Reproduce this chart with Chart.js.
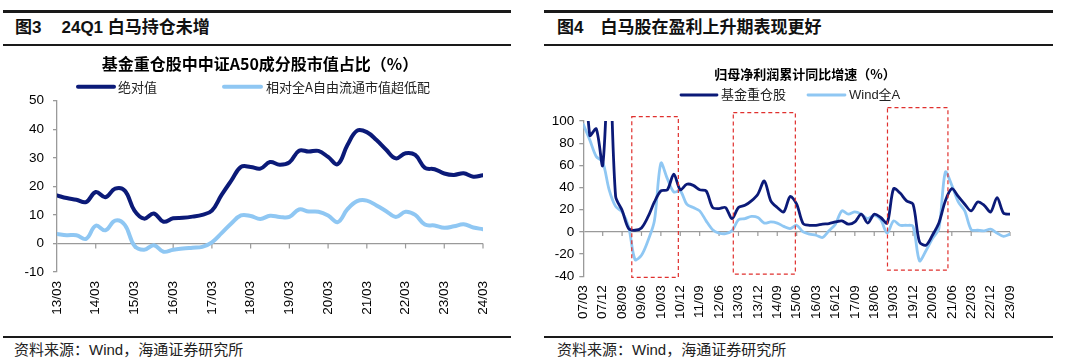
<!DOCTYPE html>
<html><head><meta charset="utf-8">
<script src="https://cdn.jsdelivr.net/npm/chart.js@4"></script>
<style>
html,body{margin:0;padding:0;background:#fff;}
body{width:1080px;height:361px;position:relative;overflow:hidden;font-family:"Liberation Sans","Noto Sans CJK SC",sans-serif;}
.rule{position:absolute;background:#1a1a1a;}
.figt{position:absolute;font-weight:bold;font-size:17px;line-height:20px;color:#111;white-space:nowrap;font-family:"Liberation Sans","Noto Sans CJK SC",sans-serif;}
.src{position:absolute;font-size:15px;line-height:16px;color:#222;white-space:nowrap;font-family:"Liberation Sans","Noto Sans CJK SC",sans-serif;}
canvas{position:absolute;}
</style></head><body>
<div class="rule" style="left:3px;top:10px;width:508px;height:2.5px"></div>
<div class="rule" style="left:3px;top:44px;width:508px;height:1.6px"></div>
<div class="rule" style="left:3px;top:336px;width:508px;height:2px"></div>
<div class="rule" style="left:544px;top:10px;width:509px;height:2.5px"></div>
<div class="rule" style="left:544px;top:44px;width:509px;height:1.6px"></div>
<div class="rule" style="left:544px;top:336px;width:509px;height:2px"></div>
<div class="figt" style="left:15px;top:18px">图3<span style="margin-left:20px">24Q1 白马持仓未增</span></div>
<div class="figt" style="left:557px;top:18px">图4<span style="margin-left:17px">白马股在盈利上升期表现更好</span></div>
<div class="src" style="left:14px;top:342px">资料来源：Wind，海通证券研究所</div>
<div class="src" style="left:557px;top:342px">资料来源：Wind，海通证券研究所</div>
<canvas id="c1" width="540" height="288" style="left:0;top:48px"></canvas>
<canvas id="c2" width="540" height="288" style="left:540px;top:48px"></canvas>
<script>
// ---------- Figure 3 data (quarterly) ----------
const leftCategories = [
 '13/03','13/06','13/09','13/12','14/03','14/06','14/09','14/12','15/03','15/06','15/09','15/12',
 '16/03','16/06','16/09','16/12','17/03','17/06','17/09','17/12','18/03','18/06','18/09','18/12',
 '19/03','19/06','19/09','19/12','20/03','20/06','20/09','20/12','21/03','21/06','21/09','21/12',
 '22/03','22/06','22/09','22/12','23/03','23/06','23/09','23/12','24/03'];
const leftTickLabels = ['13/03','14/03','15/03','16/03','17/03','18/03','19/03','20/03','21/03','22/03','23/03','24/03'];
const leftAbsolute = [16.8,15.9,15.3,14.5,18.0,16.2,19.2,18.5,11.5,8.7,10.5,7.6,8.8,9.0,9.4,10.0,
 11.5,17.0,22.0,26.8,26.8,26.2,28.5,27.6,28.4,32.5,32.2,32.4,30.3,27.8,34.5,39.5,39.0,36.2,32.8,29.8,
 31.6,31.0,26.5,26.0,24.5,24.0,24.6,23.4,23.9];
const leftRelative = [3.3,2.9,2.9,1.6,6.2,4.6,8.0,6.5,-0.8,-2.2,-0.6,-2.9,-2.2,-1.8,-1.5,-1.2,
 0.4,3.6,7.0,9.8,9.6,8.6,9.7,9.3,9.3,11.9,11.2,11.1,9.8,7.5,12.0,14.8,15.0,13.3,11.3,9.3,
 11.1,10.0,6.6,6.3,5.5,6.0,6.7,5.6,5.0];
const leftYTicks = {min:-10, max:50, step:10};

// ---------- Figure 4 data (quarterly) ----------
const rightCategories = [
 '07/03','07/06','07/09','07/12','08/03','08/06','08/09','08/12','09/03','09/06','09/09','09/12',
 '10/03','10/06','10/09','10/12','11/03','11/06','11/09','11/12','12/03','12/06','12/09','12/12',
 '13/03','13/06','13/09','13/12','14/03','14/06','14/09','14/12','15/03','15/06','15/09','15/12',
 '16/03','16/06','16/09','16/12','17/03','17/06','17/09','17/12','18/03','18/06','18/09','18/12',
 '19/03','19/06','19/09','19/12','20/03','20/06','20/09','20/12','21/03','21/06','21/09','21/12',
 '22/03','22/06','22/09','22/12','23/03','23/06','23/09'];
const rightTickLabels = ['07/03','07/12','08/09','09/06','10/03','10/12','11/09','12/06','13/03','13/12',
 '14/09','15/06','16/03','16/12','17/09','18/06','19/03','19/12','20/09','21/06','22/03','22/12','23/09'];
const rightFund = [180,87,93,60,160,32,19.5,3,1.5,3.6,13.5,27,37,38,52,38,43,42,38,37,
 22,21,22,12,22,24,28,34,46,28,22,18,32,25,7.5,6,6,7,7.5,9,10,7,9,16,8,16,13,8,
 39,35,28,25,-9,-12,-3,8,28,39,32,25,19,27,24,18,31,17,16];
const rightWind = [97,83,68,63,38,23,18,5,-25,-21,-8,10,62,48,36,37,25,22,19,10,
 2,-1,-1.5,1,11,12,14,13,8,9,8,5,3,6,0,-2,-3,-5,1,7,19,16,18,16,12,15,11,-1,
 10,6,6,5,-26,-17,-6,3,54,42,27,19,2,1.5,1,2.5,-1,-4,-2];
const rightYTicks = {min:-40, max:100, step:20};

const FONT = "'Liberation Sans','Noto Sans CJK SC',sans-serif";
const CJK = "'Noto Sans CJK SC','Liberation Sans',sans-serif";
const DARK = '#0B1A78';
const LIGHT = '#8FC7F3';
const AXIS = '#9a9a9a';

const overlay = {
  id: 'overlay',
  beforeDatasetsDraw(chart, args, o) {
    const ctx = chart.ctx, xs = chart.scales.x, ys = chart.scales.y;
    const y0 = ys.getPixelForValue(0);
    ctx.save();
    ctx.strokeStyle = AXIS; ctx.lineWidth = 1.2;
    chart.data.labels.forEach((lab, i) => {
      if (o.tickLabels.includes(lab) && i > 0) {
        const px = xs.getPixelForValue(i);
        ctx.beginPath(); ctx.moveTo(px, y0); ctx.lineTo(px, y0 + o.tickLen); ctx.stroke();
      }
    });
    ctx.restore();
  },
  afterDatasetsDraw(chart, args, o) {
    const ctx = chart.ctx, xs = chart.scales.x, ys = chart.scales.y;
    ctx.save();
    ctx.strokeStyle = '#E0302E'; ctx.lineWidth = 1.2; ctx.setLineDash([4, 3]);
    (o.boxes || []).forEach(b => {
      const x1 = xs.getPixelForValue(b[0]), x2 = xs.getPixelForValue(b[1]);
      const y1 = ys.getPixelForValue(b[3]), y2 = ys.getPixelForValue(b[2]);
      ctx.strokeRect(x1, y1, x2 - x1, y2 - y1);
    });
    ctx.restore();
  },
  afterDraw(chart, args, o) {
    const ctx = chart.ctx;
    ctx.save();
    ctx.fillStyle = '#000'; ctx.textAlign = 'center'; ctx.textBaseline = 'middle';
    ctx.font = o.titleFont; ctx.fillText(o.title, o.titleX, o.titleY);
    ctx.font = o.legendFont; ctx.textAlign = 'left'; ctx.fillStyle = '#222';
    ctx.lineCap = 'round';
    chart.data.datasets.forEach((ds, i) => {
      const L = o.legend[i];
      ctx.strokeStyle = ds.borderColor; ctx.lineWidth = ds.borderWidth;
      ctx.beginPath(); ctx.moveTo(L[0], o.legendY); ctx.lineTo(L[1], o.legendY); ctx.stroke();
      ctx.fillText(ds.label, L[2], o.legendY + 0.5);
    });
    ctx.restore();
  }
};

function makeChart(id, cats, ticks, yt, series, cfg) {
  return new Chart(document.getElementById(id), {
    type: 'line',
    data: { labels: cats, datasets: series.map(s => ({
      label: s.label, data: s.data, borderColor: s.color, borderWidth: cfg.lw,
      tension: cfg.tension, pointRadius: 0, fill: false, clip: 0,
      borderCapStyle: 'round', borderJoinStyle: 'round'
    })) },
    options: {
      responsive: false, animation: false, devicePixelRatio: 1,
      layout: { padding: { top: cfg.area.top, right: cfg.area.right, bottom: 0, left: 0 } },
      plugins: { legend: { display: false }, title: { display: false }, tooltip: { enabled: false },
        overlay: cfg.overlay },
      scales: {
        x: { type: 'category', offset: false,
          grid: { display: false, drawTicks: false }, border: { display: false },
          ticks: { autoSkip: false, minRotation: 90, maxRotation: 90, padding: cfg.xPad,
            color: '#000', font: { family: FONT, size: 13.5 },
            callback: function (v) { const l = this.getLabelForValue(v); return ticks.includes(l) ? l : ''; } },
          afterFit: s => { s.height = cfg.area.xh; } },
        y: { min: yt.min, max: yt.max,
          ticks: { stepSize: yt.step, color: '#000', font: { family: FONT, size: 13.5 }, padding: cfg.yPad },
          grid: { drawOnChartArea: true, tickLength: 4, lineWidth: 1.3, tickColor: AXIS,
            color: c => (c.tick && c.tick.value === 0) ? AXIS : 'rgba(0,0,0,0)' },
          border: { display: true, color: AXIS, width: 1.3 },
          afterFit: s => { s.width = cfg.area.left; } }
      }
    },
    plugins: [overlay]
  });
}

makeChart('c1', leftCategories, leftTickLabels, leftYTicks, [
  { label: '绝对值', data: leftAbsolute, color: DARK },
  { label: '相对全A自由流通市值超低配', data: leftRelative, color: LIGHT }
], {
  lw: 4, tension: 0.4, xPad: 9, yPad: 9,
  area: { top: 52.7, right: 57, left: 57, xh: 64 },
  overlay: { tickLabels: leftTickLabels, tickLen: 5,
    title: '基金重仓股中中证A50成分股市值占比（%）', titleFont: "bold 16px " + CJK, titleX: 260, titleY: 16,
    legendFont: "13px " + CJK, legendY: 38.7,
    legend: [[78, 114, 118], [224, 261, 266]] }
});

makeChart('c2', rightCategories, rightTickLabels, rightYTicks, [
  { label: '基金重仓股', data: rightFund, color: DARK },
  { label: 'Wind全A', data: rightWind, color: LIGHT }
], {
  lw: 2.8, tension: 0.3, xPad: 9, yPad: 5,
  area: { top: 73, right: 70, left: 43.3, xh: 59.7 },
  overlay: { tickLabels: rightTickLabels, tickLen: 4,
    boxes: [[7.5, 14.7, -41, 104], [23.2, 32.8, -38, 107.5], [47.05, 56.4, -34.5, 112]],
    title: '归母净利润累计同比增速（%）', titleFont: "bold 13px " + CJK, titleX: 265, titleY: 26,
    legendFont: "13px " + FONT, legendY: 47,
    legend: [[141, 177, 181], [268, 305, 309]] }
});
</script>
</body></html>
